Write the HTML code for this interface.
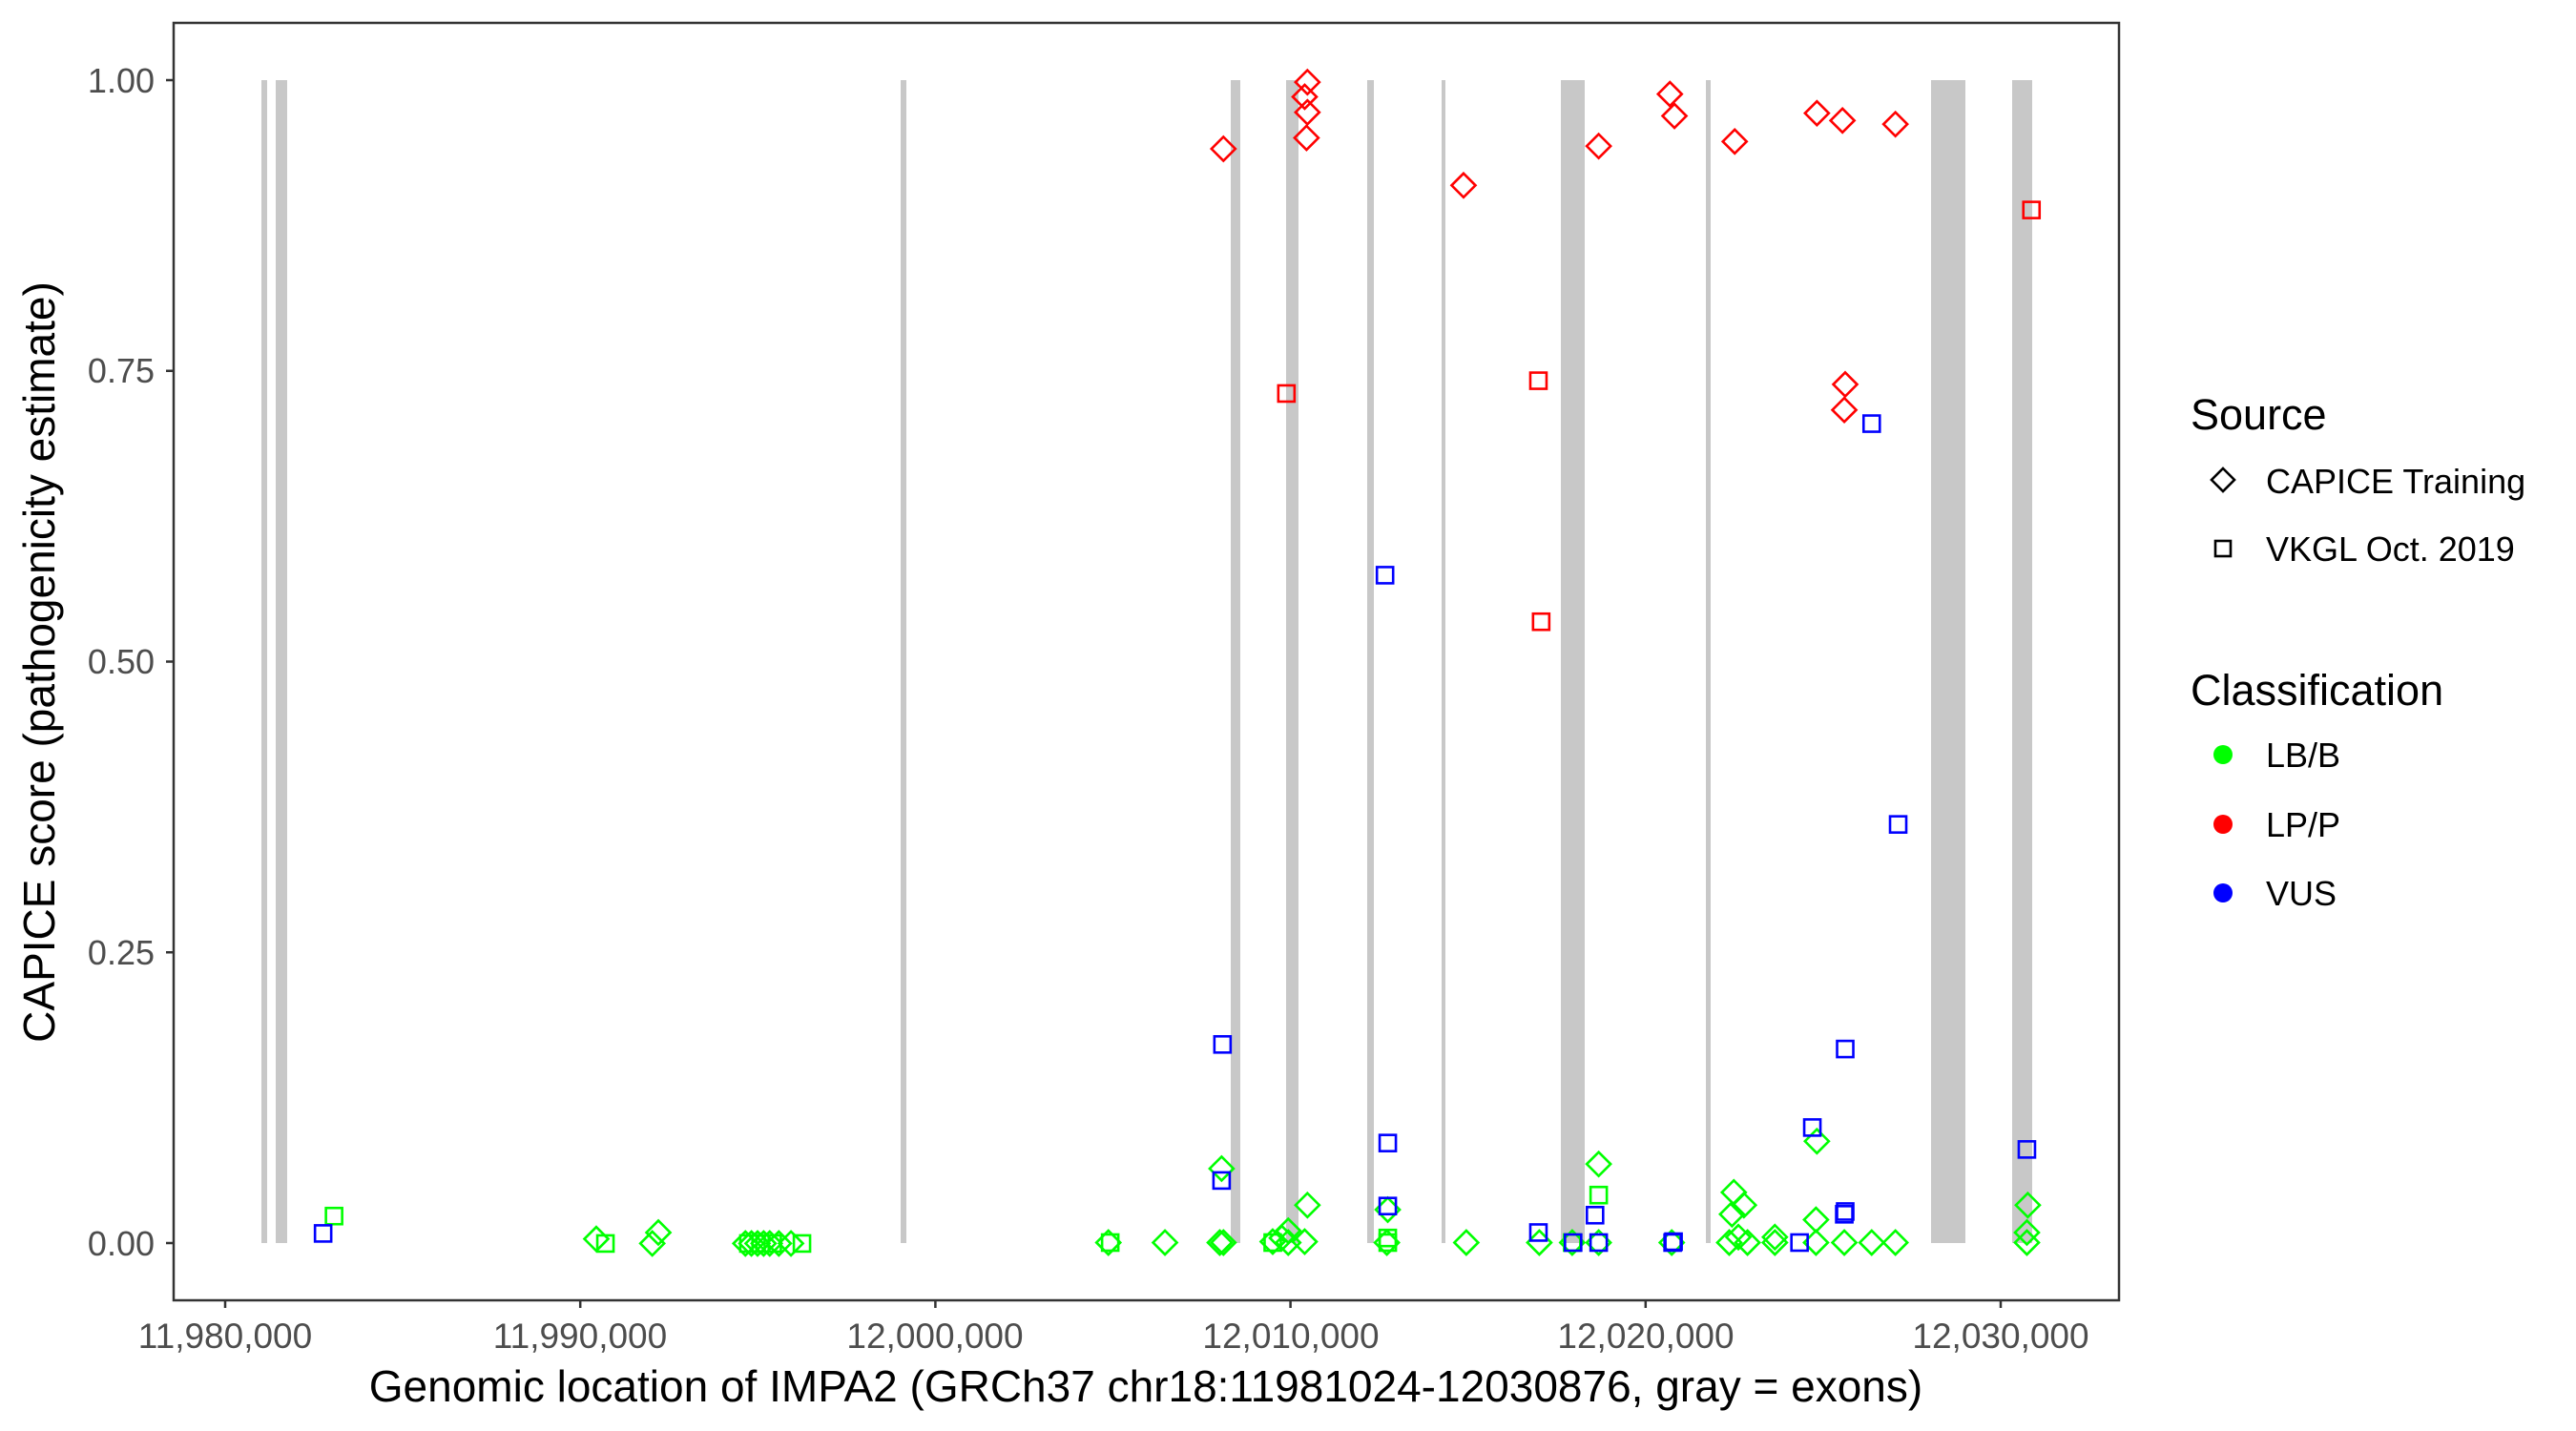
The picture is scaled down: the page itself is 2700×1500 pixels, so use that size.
<!DOCTYPE html>
<html><head><meta charset="utf-8"><style>
html,body{margin:0;padding:0;background:#fff}
svg{display:block}
text{font-family:"Liberation Sans",Arial,sans-serif}
</style></head><body>
<svg id="s" width="2700" height="1500" xmlns="http://www.w3.org/2000/svg">
<rect x="0" y="0" width="2700" height="1500" fill="#fff"/>
<g id="ex" fill="#c8c8c8"></g>
<g id="pts" fill="none" stroke-width="2.6"></g>
<rect x="182" y="24" width="2039" height="1339" fill="none" stroke="#333" stroke-width="2.5"/>
<g stroke="#333" stroke-width="2.5">
<line x1="174" x2="182" y1="1303" y2="1303"/><line x1="174" x2="182" y1="998.25" y2="998.25"/>
<line x1="174" x2="182" y1="693.5" y2="693.5"/><line x1="174" x2="182" y1="388.75" y2="388.75"/>
<line x1="174" x2="182" y1="84" y2="84"/>
<line x1="236" x2="236" y1="1363" y2="1371"/><line x1="608.2" x2="608.2" y1="1363" y2="1371"/>
<line x1="980.4" x2="980.4" y1="1363" y2="1371"/><line x1="1352.6" x2="1352.6" y1="1363" y2="1371"/>
<line x1="1724.8" x2="1724.8" y1="1363" y2="1371"/><line x1="2097" x2="2097" y1="1363" y2="1371"/>
</g>
<g fill="#4d4d4d" font-size="36" text-anchor="end">
<text x="162" y="1316">0.00</text><text x="162" y="1011">0.25</text><text x="162" y="706">0.50</text>
<text x="162" y="401">0.75</text><text x="162" y="97">1.00</text>
</g>
<g fill="#4d4d4d" font-size="37" text-anchor="middle">
<text x="236" y="1413">11,980,000</text><text x="608" y="1413">11,990,000</text>
<text x="980" y="1413">12,000,000</text><text x="1353" y="1413">12,010,000</text>
<text x="1725" y="1413">12,020,000</text><text x="2097" y="1413">12,030,000</text>
</g>
<text x="1201" y="1469" font-size="46" text-anchor="middle" fill="#000">Genomic location of IMPA2 (GRCh37 chr18:11981024-12030876, gray = exons)</text>
<text transform="translate(57,694) rotate(-90)" font-size="46" text-anchor="middle" fill="#000">CAPICE score (pathogenicity estimate)</text>
<text x="2296" y="450" font-size="45" fill="#000">Source</text>
<path d="M2330,491 L2342,503 L2330,515 L2318,503 Z" fill="none" stroke="#000" stroke-width="2.6"/>
<text x="2375" y="517" font-size="36" fill="#000">CAPICE Training</text>
<rect x="2322" y="567" width="16" height="16" fill="none" stroke="#000" stroke-width="2.6"/>
<text x="2375" y="588" font-size="36" fill="#000">VKGL Oct. 2019</text>
<text x="2296" y="739" font-size="45" fill="#000">Classification</text>
<circle cx="2330" cy="791" r="10" fill="#00ff00"/><text x="2375" y="804" font-size="36" fill="#000">LB/B</text>
<circle cx="2330" cy="864" r="10" fill="#ff0000"/><text x="2375" y="877" font-size="36" fill="#000">LP/P</text>
<circle cx="2330" cy="936" r="10" fill="#0000ff"/><text x="2375" y="949" font-size="36" fill="#000">VUS</text>
</svg>
<script>
var NS="http://www.w3.org/2000/svg";
var ex=[[274,280],[289,301],[944,950],[1290,1300],[1348,1361],[1433,1440],[1511,1515],[1636,1661],[1788,1793],[2024,2060],[2109,2130]];
var g=document.getElementById("ex");
ex.forEach(function(e){var r=document.createElementNS(NS,"rect");r.setAttribute("x",e[0]);r.setAttribute("width",e[1]-e[0]);r.setAttribute("y",84);r.setAttribute("height",1219);g.appendChild(r);});
var P=document.getElementById("pts");
function Z2(x,y){return [1200+0.957*x,0.957*y];}
function Z1(x,y){return [x/1.568,0.957*y];}
function add(p,shape,col){
  var el;
  if(shape=="d"){el=document.createElementNS(NS,"path");var x=p[0],y=p[1],h=12.5;
    el.setAttribute("d","M"+x+","+(y-h)+"L"+(x+h)+","+y+"L"+x+","+(y+h)+"L"+(x-h)+","+y+"Z");}
  else{el=document.createElementNS(NS,"rect");el.setAttribute("x",p[0]-8.5);el.setAttribute("y",p[1]-8.5);el.setAttribute("width",17);el.setAttribute("height",17);}
  el.setAttribute("stroke",col);P.appendChild(el);
}
var R="#ff0000",B="#0000ff",G="#00ff00";
[[86,163],[178,90],[175,106],[178,123],[177,151],[349,203],[497,160],[575,103],[580,127],[646,155],[736,124],[764,132],[822,136],[767,421],[766,449]].forEach(function(a){add(Z2(a[0],a[1]),"d",R);});
[[155,431],[431,417],[434,681],[971,230]].forEach(function(a){add(Z2(a[0],a[1]),"s",R);});
[[22,1361],[84,1280],[86,1361],[82,1361],[140,1360],[150,1356],[157,1348],[157,1361],[178,1320],[175,1360],[266,1325],[265,1361],[352,1361],[432,1361],[497,1275],[497,1361],[468,1361],[577,1361],[645,1306],[656,1320],[643,1330],[640,1361],[650,1355],[660,1361],[690,1355],[690,1361],[735,1336],[736,1250],[735,1361],[766,1361],[796,1361],[822,1361],[967,1320],[966,1350],[966,1361],[-40,1361]].forEach(function(a){add(Z2(a[0],a[1]),"d",G);});
[[497,1309],[140,1361],[266,1356],[266,1361],[468,1361],[-38,1361]].forEach(function(a){add(Z2(a[0],a[1]),"s",G);});
[[980,1357],[1072,1362],[1082,1350],[1225,1362],[1235,1362],[1245,1362],[1255,1362],[1265,1362],[1280,1362],[1300,1362]].forEach(function(a){add(Z1(a[0],a[1]),"d",G);});
[[549,1332],[995,1362],[1230,1362],[1250,1362],[1270,1362],[1318,1362]].forEach(function(a){add(Z1(a[0],a[1]),"s",G);});
[[263,630],[796,464],[825,903],[85,1144],[767,1149],[266,1252],[731,1235],[966,1259],[84,1293],[266,1321],[493,1331],[766,1330],[767,1327],[431,1350],[469,1361],[497,1361],[578,1361],[717,1361],[579,1360]].forEach(function(a){add(Z2(a[0],a[1]),"s",B);});
add(Z1(531,1351),"s",B);
</script>
</body></html>
